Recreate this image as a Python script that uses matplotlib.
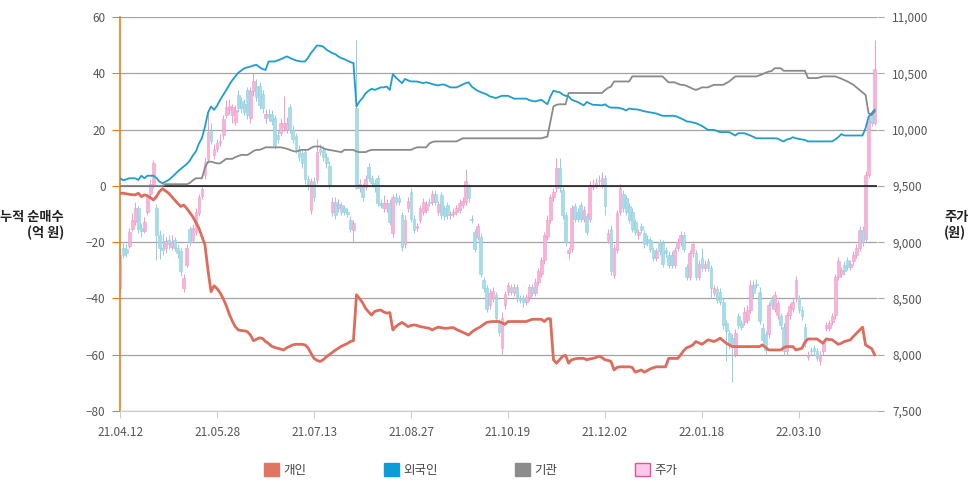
"""Cumulative net buying by investor type vs. share price (candles)."""

import matplotlib
matplotlib.use("Agg")
import matplotlib.pyplot as plt
from matplotlib.patches import Patch
from matplotlib.ticker import FuncFormatter
import numpy as np

plt.rcParams["font.family"] = ["Noto Sans CJK KR", "DejaVu Sans"]

# x tick labels (trading-day index -> date)
tick_idx = [0, 32, 64, 96, 128, 160, 192, 224]
tick_labels = ["21.04.12", "21.05.28", "21.07.13", "21.08.27",
               "21.10.19", "21.12.02", "22.01.18", "22.03.10"]

# cumulative net buying, 억 원
retail_net = [
    -2.6, -2.6, -2.8, -3.0, -3.1, -3.2, -2.6, -3.8, -3.2, -3.5,
    -4.2, -5.0, -3.8, -2.0, -1.0, -1.8, -2.6, -3.8, -5.0, -6.2,
    -7.3, -6.8, -8.0, -9.5, -11.0, -13.0, -15.0, -18.0, -21.0, -30.0,
    -37.6, -35.5, -36.5, -38.0, -40.0, -42.5, -45.5, -48.0, -50.0, -51.2,
    -51.4, -51.5, -51.8, -53.0, -55.0, -54.5, -54.0, -54.2, -55.3, -56.0,
    -57.0, -57.4, -57.7, -58.0, -58.3, -57.5, -57.0, -56.5, -56.3, -56.3,
    -56.3, -56.5, -57.5, -59.5, -61.3, -62.0, -62.4, -61.8, -60.8, -60.0,
    -59.2, -58.4, -57.7, -57.0, -56.5, -56.0, -55.3, -55.0, -38.7, -40.0,
    -41.5, -43.5, -44.8, -45.9, -44.6, -44.3, -44.1, -44.8, -45.2, -45.0,
    -51.2, -50.0, -49.2, -48.5, -49.2, -50.0, -49.6, -49.4, -49.6, -50.0,
    -50.2, -50.4, -50.6, -51.2, -50.6, -50.2, -50.4, -50.6, -50.6, -50.4,
    -50.4, -51.0, -51.5, -52.0, -52.5, -53.0, -52.0, -51.2, -50.6, -50.0,
    -49.2, -48.5, -48.3, -48.2, -48.2, -48.2, -48.7, -49.2, -48.2, -48.2,
    -48.2, -48.2, -48.2, -48.2, -48.2, -47.8, -47.4, -47.4, -47.4, -47.4,
    -48.2, -47.2, -47.2, -61.8, -63.0, -61.8, -60.6, -60.2, -63.0, -61.8,
    -61.5, -61.3, -61.3, -61.3, -61.8, -61.5, -61.3, -61.0, -60.5, -61.0,
    -61.8, -62.0, -62.4, -65.4, -64.5, -64.3, -64.3, -64.3, -64.3, -64.5,
    -66.2, -65.8, -65.4, -66.2, -65.6, -65.0, -64.6, -64.3, -64.3, -64.3,
    -64.3, -61.3, -61.3, -61.3, -61.3, -60.0, -58.5, -57.5, -57.1, -56.5,
    -55.3, -55.8, -56.3, -55.5, -54.7, -55.0, -55.3, -54.8, -54.1, -55.0,
    -55.9, -56.5, -57.1, -57.1, -57.1, -57.1, -57.1, -57.1, -57.1, -57.1,
    -57.1, -57.1, -56.5, -57.4, -58.3, -58.3, -58.3, -58.3, -58.3, -57.5,
    -57.1, -57.1, -57.1, -58.3, -58.0, -57.7, -55.5, -54.4, -54.4, -54.4,
    -54.4, -55.2, -55.9, -54.4, -54.6, -54.7, -55.5, -56.3, -55.9, -55.3,
    -55.0, -54.7, -53.5, -52.4, -51.3, -50.2, -56.5, -57.2, -57.8, -60.0,
]

foreign_net = [
    2.7, 2.0, 2.3, 2.7, 2.7, 2.7, 2.1, 3.6, 2.7, 3.6,
    3.6, 3.6, 2.8, 1.5, 0.9, 1.5, 2.1, 3.0, 4.0, 5.1,
    6.0, 6.9, 7.8, 9.0, 10.8, 12.2, 15.0, 17.0, 21.0, 26.0,
    28.2, 27.0, 28.5, 30.5, 32.3, 34.0, 35.9, 37.5, 38.9, 40.2,
    41.0, 41.8, 42.1, 42.4, 42.8, 43.0, 42.2, 41.5, 41.2, 44.2,
    44.2, 44.2, 44.6, 45.0, 45.5, 46.0, 45.5, 45.0, 44.6, 44.3,
    44.2, 44.2, 45.5, 47.2, 48.6, 49.9, 49.8, 49.5, 48.5, 47.8,
    47.2, 46.8, 46.0, 45.4, 45.0, 44.5, 44.0, 43.6, 28.2, 30.0,
    31.2, 32.9, 33.8, 34.5, 34.1, 34.5, 35.0, 35.0, 35.3, 34.1,
    39.7, 38.5, 37.5, 36.5, 38.0, 37.5, 37.1, 37.1, 37.1, 36.8,
    36.5, 36.8, 36.5, 36.2, 35.9, 35.7, 36.0, 36.0, 35.5, 35.0,
    35.0, 35.0, 35.5, 36.0, 36.5, 36.8, 35.3, 34.5, 33.8, 33.3,
    32.9, 32.5, 31.8, 31.5, 31.2, 31.6, 32.0, 32.0, 32.0, 31.5,
    31.0, 31.0, 31.0, 31.0, 31.0, 30.5, 30.2, 30.0, 30.3, 30.6,
    29.8, 29.0, 31.8, 33.8, 33.5, 33.3, 32.5, 32.0, 31.8, 30.6,
    30.2, 29.8, 29.2, 28.6, 29.8, 29.3, 28.8, 28.8, 28.7, 28.6,
    29.0, 28.2, 27.8, 27.8, 27.8, 27.6, 27.3, 26.8, 27.5, 27.3,
    27.2, 27.1, 26.8, 26.5, 26.3, 26.1, 25.9, 25.7, 25.3, 24.9,
    24.9, 24.9, 24.9, 24.9, 24.5, 24.0, 23.5, 22.9, 22.8, 22.5,
    22.3, 21.8, 21.3, 20.6, 19.9, 19.9, 19.9, 19.5, 19.1, 19.1,
    19.1, 19.1, 18.5, 17.9, 18.7, 18.7, 18.7, 18.3, 17.9, 17.4,
    16.9, 16.9, 16.9, 16.9, 16.9, 16.9, 16.9, 16.8, 16.2, 15.8,
    16.5, 16.7, 17.3, 16.9, 16.7, 16.5, 16.3, 15.8, 15.8, 15.8,
    15.8, 15.8, 15.8, 15.8, 15.8, 15.8, 16.5, 17.3, 18.4, 17.9,
    17.9, 17.9, 17.9, 17.9, 17.9, 17.9, 20.5, 24.6, 25.8, 27.0,
]

inst_net = [
    0.0, 0.0, 0.0, 0.0, 0.0, 0.0, 0.0, 0.0, 0.0, 0.0,
    0.0, 0.0, 0.0, 0.0, 0.0, 0.6, 0.6, 0.6, 0.6, 0.6,
    0.6, 0.6, 0.6, 1.0, 2.0, 2.7, 2.7, 2.7, 6.5, 8.6,
    8.6, 8.3, 8.0, 8.0, 8.8, 9.6, 9.6, 9.6, 10.2, 10.6,
    11.0, 11.0, 11.0, 11.6, 12.4, 12.8, 12.8, 13.2, 13.7, 13.7,
    13.7, 13.7, 13.7, 13.7, 13.5, 13.2, 12.8, 12.4, 12.2, 12.5,
    12.8, 12.8, 12.8, 13.5, 14.0, 14.0, 14.0, 13.4, 13.0, 12.8,
    12.6, 12.4, 12.2, 12.0, 12.8, 12.8, 12.8, 12.8, 12.2, 12.0,
    12.0, 12.0, 12.5, 12.8, 12.8, 12.8, 12.8, 12.8, 12.8, 12.8,
    12.8, 12.8, 12.8, 12.8, 12.8, 12.8, 12.8, 13.3, 13.7, 13.7,
    13.7, 13.7, 15.0, 15.6, 15.8, 15.8, 15.8, 15.8, 15.8, 15.8,
    15.8, 15.8, 16.3, 16.9, 16.9, 16.9, 16.9, 16.9, 16.9, 16.9,
    16.9, 16.9, 16.9, 16.9, 16.9, 16.9, 16.9, 16.9, 16.9, 16.9,
    16.9, 16.9, 16.9, 16.9, 16.9, 16.9, 16.9, 16.9, 16.9, 16.9,
    17.2, 17.5, 22.9, 28.2, 28.8, 29.0, 29.0, 29.0, 33.0, 33.0,
    33.0, 33.0, 33.0, 33.0, 33.0, 33.0, 33.0, 33.0, 33.0, 33.0,
    34.0, 34.8, 35.3, 37.1, 37.1, 37.1, 37.1, 37.1, 37.1, 38.9,
    38.9, 38.9, 38.9, 38.9, 38.9, 38.9, 38.9, 38.9, 38.9, 38.9,
    37.8, 36.8, 36.8, 36.8, 36.3, 35.9, 35.9, 35.5, 35.0, 34.5,
    34.1, 34.5, 35.0, 35.0, 35.0, 35.5, 35.9, 35.9, 35.9, 35.9,
    36.5, 37.1, 38.0, 38.9, 38.9, 38.9, 38.9, 38.9, 38.9, 38.9,
    38.9, 39.3, 39.7, 40.2, 40.6, 40.8, 41.8, 41.8, 41.8, 40.9,
    40.9, 40.9, 40.9, 40.9, 40.9, 40.9, 40.9, 38.3, 38.3, 38.3,
    38.3, 38.6, 38.9, 38.9, 38.9, 38.9, 38.9, 38.5, 38.1, 37.6,
    37.1, 36.5, 35.9, 35.0, 34.1, 33.2, 32.3, 25.8, 25.2, 26.4,
]

# daily share price, 원
price_open = [
    8590, 8950, 8940, 8970, 9120, 9180, 9300, 9130, 9100, 9270,
    9430, 9520, 9300, 9060, 8950, 8950, 9020, 8960, 9020, 8950,
    8920, 8590, 8800, 9120, 9020, 9090, 9260, 9410, 9600, 9740,
    9990, 9770, 9830, 9880, 9950, 10130, 10170, 10130, 10070, 10310,
    10250, 10230, 10350, 10100, 10340, 10390, 10390, 10320, 10100, 10140,
    10140, 10100, 9950, 9970, 10020, 10000, 10200, 10000, 9940, 9830,
    9790, 9800, 9560, 9290, 9540, 9550, 9830, 9820, 9760, 9680,
    9270, 9360, 9300, 9330, 9300, 9270, 9200, 9110, 10190, 9480,
    9490, 9490, 9670, 9570, 9530, 9570, 9350, 9300, 9300, 9350,
    9080, 9400, 9390, 9240, 8980, 9300, 9450, 9210, 9130, 9200,
    9270, 9290, 9360, 9360, 9430, 9270, 9420, 9300, 9330, 9240,
    9250, 9270, 9290, 9330, 9360, 9490, 9210, 9090, 9050, 9050,
    8660, 8590, 8440, 8500, 8530, 8290, 8060, 8440, 8560, 8600,
    8550, 8600, 8500, 8500, 8470, 8510, 8600, 8550, 8650, 8720,
    8840, 9050, 9200, 9400, 9480, 9660, 9460, 9240, 8900, 8940,
    9320, 9270, 9330, 9210, 9230, 9210, 9490, 9510, 9550, 9510,
    9570, 9020, 9120, 8710, 8930, 9270, 9430, 9390, 9320, 9270,
    9180, 9060, 9140, 9080, 9030, 9020, 8930, 8860, 9000, 8990,
    8930, 8890, 8890, 8800, 8950, 9000, 9060, 8780, 8690, 8900,
    8900, 8690, 8860, 8770, 8830, 8770, 8550, 8580, 8560, 8470,
    8280, 8190, 8150, 8010, 8340, 8280, 8290, 8310, 8400, 8620,
    8630, 8560, 8240, 8180, 8180, 8490, 8410, 8350, 8340, 8250,
    8030, 8350, 8410, 8500, 8500, 8400, 8250, 7980, 8040, 8060,
    8030, 7940, 8030, 8240, 8240, 8290, 8350, 8690, 8720, 8800,
    8840, 8780, 8830, 8890, 8950, 9110, 9030, 9600, 10140, 10060,
]
price_close = [
    8890, 8890, 8900, 9090, 9200, 9300, 9120, 9100, 9180, 9400,
    9520, 9700, 9060, 8950, 8930, 9010, 8980, 9000, 8950, 8900,
    8740, 8680, 8950, 9000, 9130, 9270, 9400, 9470, 9710, 9980,
    9900, 9830, 9880, 9900, 10090, 10200, 10210, 10200, 10170, 10190,
    10190, 10160, 10130, 10340, 10430, 10290, 10220, 10190, 10140, 10110,
    10080, 9860, 9920, 10060, 10060, 10060, 10000, 9920, 9830, 9760,
    9700, 9560, 9500, 9540, 9400, 9800, 9800, 9760, 9700, 9510,
    9360, 9240, 9340, 9270, 9270, 9250, 9120, 9170, 9480, 9520,
    9400, 9560, 9570, 9530, 9490, 9350, 9330, 9350, 9350, 9180,
    9400, 9360, 9360, 8960, 9200, 9370, 9210, 9110, 9140, 9300,
    9360, 9340, 9350, 9430, 9360, 9340, 9240, 9230, 9240, 9250,
    9270, 9300, 9350, 9370, 9540, 9390, 9200, 8940, 9140, 8720,
    8590, 8410, 8550, 8570, 8330, 8200, 8330, 8540, 8620, 8560,
    8600, 8500, 8490, 8470, 8510, 8600, 8550, 8650, 8740, 8840,
    9060, 9200, 9400, 9450, 9660, 9480, 9240, 9000, 8930, 9300,
    9210, 9210, 9210, 9290, 9090, 9510, 9500, 9530, 9540, 9570,
    9320, 9080, 8740, 8950, 9260, 9480, 9300, 9270, 9200, 9120,
    9090, 9090, 9110, 8980, 9000, 8940, 8860, 8920, 8920, 8810,
    8900, 8800, 8800, 8930, 9000, 9060, 8940, 8690, 8900, 8980,
    8690, 8810, 8770, 8810, 8770, 8590, 8590, 8490, 8470, 8260,
    8210, 8100, 8090, 8190, 8260, 8250, 8380, 8400, 8620, 8550,
    8620, 8300, 8130, 8040, 8440, 8440, 8530, 8460, 8260, 8030,
    8350, 8430, 8470, 8660, 8400, 8340, 8100, 8000, 8030, 8030,
    7970, 8000, 8100, 8260, 8280, 8340, 8690, 8830, 8750, 8740,
    8780, 8810, 8890, 8950, 9110, 9000, 9600, 10080, 10060, 10540,
]
price_high = [
    8950, 8990, 8980, 9130, 9260, 9360, 9320, 9170, 9220, 9430,
    9560, 9730, 9340, 9110, 9080, 9050, 9060, 9060, 9050, 8980,
    8950, 8720, 8980, 9140, 9160, 9300, 9430, 9500, 9760, 10150,
    10060, 9870, 9920, 9960, 10130, 10260, 10270, 10230, 10220, 10350,
    10290, 10270, 10380, 10380, 10500, 10450, 10420, 10350, 10180, 10180,
    10170, 10130, 9990, 10100, 10300, 10110, 10230, 10040, 9970, 9860,
    9820, 9830, 9600, 9570, 9580, 9920, 9870, 9850, 9790, 9720,
    9400, 9400, 9380, 9360, 9330, 9300, 9230, 9200, 10800, 9560,
    9530, 9600, 9700, 9600, 9560, 9600, 9380, 9420, 9380, 9380,
    9430, 9440, 9420, 9270, 9240, 9400, 9480, 9240, 9170, 9330,
    9390, 9370, 9390, 9460, 9460, 9370, 9450, 9330, 9360, 9280,
    9300, 9330, 9380, 9400, 9650, 9520, 9240, 9120, 9170, 9080,
    8690, 8620, 8580, 8600, 8560, 8320, 8380, 8570, 8650, 8630,
    8630, 8630, 8530, 8530, 8540, 8630, 8630, 8680, 8770, 8870,
    9090, 9240, 9430, 9480, 9750, 9750, 9490, 9270, 8960, 9330,
    9350, 9300, 9360, 9320, 9260, 9540, 9560, 9570, 9600, 9620,
    9600, 9120, 9150, 8980, 9290, 9520, 9460, 9420, 9350, 9300,
    9210, 9120, 9170, 9110, 9060, 9050, 8960, 8950, 9030, 9020,
    8960, 8920, 8920, 8960, 9040, 9100, 9090, 8810, 8930, 9010,
    8930, 8840, 8950, 8840, 8860, 8800, 8620, 8610, 8590, 8500,
    8310, 8220, 8180, 8230, 8370, 8310, 8420, 8440, 8660, 8660,
    8670, 8600, 8280, 8210, 8470, 8520, 8570, 8490, 8370, 8280,
    8380, 8460, 8500, 8700, 8530, 8430, 8280, 8030, 8070, 8090,
    8060, 8030, 8130, 8290, 8310, 8370, 8720, 8870, 8780, 8830,
    8870, 8840, 8920, 8980, 9140, 9140, 9630, 10120, 10170, 10800,
]
price_low = [
    8560, 8860, 8870, 8950, 9100, 9150, 9080, 9050, 9080, 9240,
    9400, 9480, 8840, 8850, 8890, 8900, 8940, 8930, 8920, 8860,
    8700, 8560, 8780, 8970, 9000, 9060, 9230, 9380, 9560, 9700,
    9870, 9740, 9800, 9850, 9920, 10100, 10140, 10060, 10040, 10160,
    10150, 10130, 10090, 10060, 10300, 10250, 10180, 10150, 10060, 10080,
    10040, 9830, 9880, 9940, 9990, 9970, 9970, 9880, 9790, 9720,
    9660, 9520, 9460, 9250, 9370, 9520, 9770, 9720, 9660, 9470,
    9230, 9210, 9270, 9240, 9240, 9220, 9090, 8990, 9470, 9450,
    9370, 9460, 9540, 9500, 9450, 9320, 9300, 9270, 9270, 9150,
    9050, 9330, 9330, 8920, 8950, 9270, 9180, 9080, 9100, 9170,
    9240, 9260, 9320, 9330, 9330, 9240, 9210, 9200, 9210, 9210,
    9220, 9240, 9260, 9300, 9330, 9360, 9170, 8910, 9020, 8690,
    8560, 8380, 8410, 8470, 8300, 8170, 8000, 8410, 8530, 8530,
    8520, 8470, 8460, 8420, 8440, 8480, 8520, 8520, 8620, 8690,
    8810, 9020, 9170, 9370, 9450, 9450, 9210, 8970, 8850, 8910,
    9180, 9180, 9180, 9180, 9060, 9180, 9460, 9480, 9510, 9480,
    9240, 8990, 8710, 8680, 8900, 9240, 9270, 9240, 9170, 9090,
    9060, 9030, 9080, 8950, 8970, 8910, 8830, 8830, 8890, 8780,
    8870, 8770, 8770, 8770, 8920, 8970, 8910, 8660, 8660, 8870,
    8660, 8660, 8740, 8740, 8740, 8500, 8520, 8460, 8440, 8230,
    7940, 8050, 7760, 7980, 8230, 8220, 8260, 8280, 8370, 8510,
    8590, 8270, 8100, 8010, 8150, 8410, 8380, 8320, 8230, 8000,
    8000, 8320, 8380, 8470, 8370, 8310, 8070, 7950, 8000, 8000,
    7940, 7910, 8000, 8210, 8210, 8260, 8320, 8660, 8690, 8710,
    8750, 8750, 8800, 8860, 8920, 8970, 9000, 9570, 10030, 10040,
]

series_names = ["개인", "외국인", "기관", "주가"]

RED = "#de6b5b"
BLUE = "#1e9dd1"
GRAY = "#8a8a8a"
ORANGE = "#e5801f"
UP_FACE, UP_EDGE = "#f6b5d8", "#f09ac6"
DN_FACE, DN_EDGE = "#a9dbe8", "#8fd0e2"


def main() -> None:
    o = np.array(price_open, dtype=float)
    c = np.array(price_close, dtype=float)
    h = np.maximum(np.array(price_high, dtype=float), np.maximum(o, c))
    l = np.minimum(np.array(price_low, dtype=float), np.minimum(o, c))
    xp = np.arange(len(c))
    up = c >= o

    fig = plt.figure(figsize=(9.74, 4.92), dpi=100)
    ax = fig.add_axes([0.1227, 0.1646, 0.7778, 0.8008])
    ax2 = ax.twinx()
    ax.set_zorder(ax2.get_zorder() + 1)
    ax.patch.set_visible(False)

    # price candles (right axis)
    for mask, face, edge in ((up, UP_FACE, UP_EDGE), (~up, DN_FACE, DN_EDGE)):
        ax2.vlines(xp[mask], l[mask], h[mask], color=edge, lw=0.7, zorder=2)
        body = np.maximum(np.abs(c - o), 10)[mask]
        ax2.bar(xp[mask], body, bottom=np.minimum(o, c)[mask], width=0.9,
                color=face, edgecolor=edge, linewidth=0.4, zorder=3)

    ax2.set_ylim(7500, 11000)
    ax2.set_yticks(np.arange(7500, 11001, 500))
    ax2.yaxis.set_major_formatter(FuncFormatter(lambda v, _: f"{int(v):,}"))
    ax2.grid(axis="y", color="#a3a3a3", lw=0.9, zorder=0)
    ax2.set_axisbelow(True)
    ax2.tick_params(axis="y", colors="#aaaaaa", length=5, labelsize=8.5,
                    labelcolor="#555555", pad=6)
    for s in ax2.spines.values():
        s.set_visible(False)

    # net buying lines (left axis)
    ax.axhline(0, color="#111111", lw=1.1, zorder=3)
    ax.plot(np.arange(len(inst_net)), inst_net, color=GRAY, lw=1.3, zorder=4)
    ax.plot(np.arange(len(foreign_net)), foreign_net, color=BLUE, lw=1.3, zorder=5)
    ax.plot(np.arange(len(retail_net)), retail_net, color=RED, lw=2.0, zorder=6)

    ax.set_ylim(-80, 60)
    ax.set_yticks(np.arange(-80, 61, 20))
    ax.set_xlim(-0.2, 249.8)
    ax.set_xticks(tick_idx)
    ax.set_xticklabels(tick_labels)
    ax.tick_params(axis="y", colors=ORANGE, length=6, labelsize=8.5,
                   labelcolor="#555555", pad=4)
    ax.tick_params(axis="x", colors="#cccccc", length=5, labelsize=8.5,
                   labelcolor="#555555", pad=6)
    for side in ("top", "right"):
        ax.spines[side].set_visible(False)
    ax.spines["left"].set_color(ORANGE)
    ax.spines["left"].set_linewidth(1.2)
    ax.spines["bottom"].set_color("#cccccc")

    fig.text(64 / 974, 1 - 225 / 492, "누적 순매수\n(억 원)", ha="right",
             va="center", multialignment="right", fontsize=9.5,
             fontweight="bold", color="#222222", linespacing=1.1)
    fig.text(944 / 974, 1 - 225 / 492, "주가\n(원)", ha="left", va="center",
             fontsize=9.5, fontweight="bold", color="#222222", linespacing=1.1)

    handles = [
        Patch(facecolor="#e07563", edgecolor="#e07563"),
        Patch(facecolor="#0a9dd6", edgecolor="#0a9dd6"),
        Patch(facecolor="#8c8c8c", edgecolor="#8c8c8c"),
        Patch(facecolor="#ffc8e6", edgecolor="#e0559a", linewidth=1),
    ]
    fig.legend(handles, series_names, loc="center", bbox_to_anchor=(0.483, 0.045),
               ncol=4, frameon=False, fontsize=9, handlelength=1.2,
               handleheight=1.2, handletextpad=0.35, columnspacing=6.2,
               labelcolor="#444444")

    fig.savefig("out.png", dpi=100)
    plt.close(fig)


if __name__ == "__main__":
    main()
